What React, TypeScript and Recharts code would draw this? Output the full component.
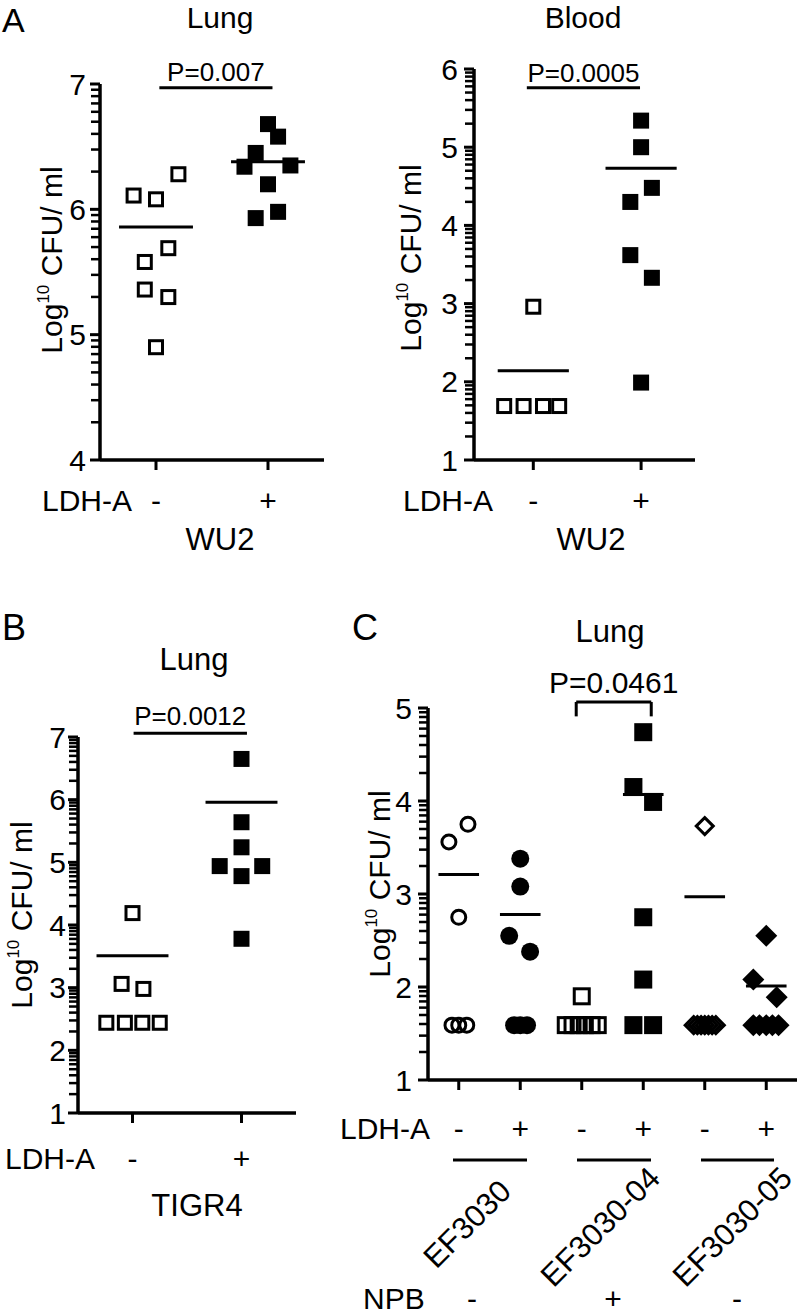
import React from 'react'
import { ScatterChart, Scatter, XAxis, YAxis, ReferenceLine } from 'recharts'

const FONT = '"Liberation Sans", Arial, Helvetica, sans-serif'

// ---- A: Lung (WU2) ----
const aLungNegY = [6.11, 6.08, 6.28, 5.69, 5.58, 5.36, 5.3, 4.9]
const aLungNegDx = [-0.2, 0, 0.2, 0.11, -0.1, -0.1, 0.11, 0]
const aLungPosY = [6.68, 6.58, 6.45, 6.34, 6.35, 6.2, 5.98, 5.93]
const aLungPosDx = [0, 0.09, -0.11, -0.21, 0.2, 0, 0.09, -0.11]
const aLungMeans = [5.86, 6.38]

// ---- A: Blood (WU2) ----
const aBloodNegY = [2.96, 1.69, 1.69, 1.69, 1.69]
const aBloodNegDx = [0, -0.27, -0.09, 0.09, 0.24]
const aBloodPosY = [5.34, 5.0, 4.48, 4.3, 3.62, 3.33, 1.99]
const aBloodPosDx = [0, 0, 0.1, -0.1, -0.1, 0.1, 0]
const aBloodMeans = [2.14, 4.73]

// ---- B: Lung (TIGR4) ----
const bNegY = [4.19, 3.06, 2.98, 2.44, 2.44, 2.44, 2.44]
const bNegDx = [0, -0.1, 0.1, -0.24, -0.07, 0.09, 0.25]
const bPosY = [6.65, 5.64, 5.24, 4.94, 4.94, 4.78, 3.78]
const bPosDx = [0, 0, 0, -0.2, 0.19, 0, 0]
const bMeans = [3.51, 5.96]

// ---- C: Lung (EF3030 strains) ----
const c1Y = [3.75, 3.56, 2.75, 1.59, 1.59, 1.59]
const c1Dx = [0.15, -0.16, 0, -0.11, 0, 0.13]
const c2Y = [3.38, 3.08, 2.55, 2.38, 1.59, 1.59, 1.59]
const c2Dx = [0, 0, -0.18, 0.16, -0.1, 0, 0.11]
const c3Y = [1.9, 1.59, 1.59, 1.59, 1.59, 1.59, 1.59]
const c3Dx = [0, -0.26, -0.15, -0.05, 0.05, 0.16, 0.26]
const c4Y = [4.74, 4.15, 3.99, 2.75, 2.08, 1.59, 1.59]
const c4Dx = [0, -0.16, 0.16, 0, 0, -0.16, 0.16]
const c5Y = [3.73, 1.59, 1.59, 1.59, 1.59, 1.59, 1.59, 1.59]
const c5Dx = [0, -0.18, -0.12, -0.06, 0, 0.06, 0.12, 0.18]
const c6Y = [2.55, 2.08, 1.89, 1.59, 1.59, 1.59, 1.59, 1.59]
const c6Dx = [0, -0.21, 0.17, -0.21, -0.11, 0, 0.1, 0.2]
const cMeans = [3.21, 2.78, null, 4.07, 2.97, 2.01]

const ldhLabels2 = ['-', '+']
const ldhLabels6 = ['-', '+', '-', '+', '-', '+']
const strainsC = ['EF3030', 'EF3030-04', 'EF3030-05']
const npbLabels = ['-', '+', '-']

type Kind = 'openSquare' | 'square' | 'openCircle' | 'circle' | 'openDiamond' | 'diamond'

interface Group {
  pos: number
  ys: number[]
  dx: number[]
  kind: Kind
  size: number
  mean: number | null
}

interface PLine {
  x1: number
  x2: number
  y: number
  text: string
  fontSize: number
  offset: number
  armTo?: number
}

interface PanelCfg {
  left: number
  top: number
  width: number
  height: number
  yAxisWidth: number
  marginTop: number
  marginRight: number
  xAxisHeight: number
  xDomain: [number, number]
  yDomain: [number, number]
  xLabels: string[]
  xLabelGap: number
  yLabelGap: number
  groups: Group[]
  p: PLine
}

const SW = 3

function marker(kind: Kind, size: number) {
  const h = size / 2
  return (props: any) => {
    const { cx, cy } = props
    if (cx == null || cy == null) return <g />
    switch (kind) {
      case 'openSquare':
        return <rect x={cx - h + SW / 2} y={cy - h + SW / 2} width={size - SW} height={size - SW} fill="none" stroke="#000" strokeWidth={SW} />
      case 'square':
        return <rect x={cx - h} y={cy - h} width={size} height={size} fill="#000" />
      case 'openCircle':
        return <circle cx={cx} cy={cy} r={h - SW / 2} fill="none" stroke="#000" strokeWidth={SW} />
      case 'circle':
        return <circle cx={cx} cy={cy} r={h} fill="#000" />
      case 'openDiamond': {
        const r = h - SW / 2
        return <polygon points={`${cx},${cy - r} ${cx + r},${cy} ${cx},${cy + r} ${cx - r},${cy}`} fill="none" stroke="#000" strokeWidth={SW} />
      }
      default:
        return <polygon points={`${cx},${cy - h} ${cx + h},${cy} ${cx},${cy + h} ${cx - h},${cy}`} fill="#000" />
    }
  }
}

// short minor tick drawn to the left of the y axis
const minorTickShape = (props: any) => {
  const { cx, cy } = props
  if (cx == null || cy == null) return <g />
  return <rect x={cx - 9} y={cy - 1.25} width={9} height={2.5} fill="#000" />
}

function majorTicks(lo: number, hi: number) {
  const out: number[] = []
  for (let n = lo; n <= hi; n++) out.push(n)
  return out
}

// log10 minor ticks inside each decade
function minorTicks(lo: number, hi: number) {
  const out: number[] = []
  for (let n = lo; n < hi; n++) {
    for (let k = 2; k <= 9; k++) out.push(n + Math.log10(k))
  }
  return out
}

function Panel({ cfg }: { cfg: PanelCfg }) {
  const xTicks = cfg.groups.map((g) => g.pos)
  const half = 0.33
  const p = cfg.p
  const x0 = cfg.xDomain[0]
  return (
    <div style={{ position: 'absolute', left: cfg.left, top: cfg.top }}>
      <ScatterChart
        width={cfg.width}
        height={cfg.height}
        margin={{ top: cfg.marginTop, right: cfg.marginRight, bottom: 0, left: 0 }}
      >
        <XAxis
          type="number"
          dataKey="x"
          domain={cfg.xDomain}
          ticks={xTicks}
          interval={0}
          height={cfg.xAxisHeight}
          axisLine={{ stroke: '#000', strokeWidth: 3.5 }}
          tickLine={{ stroke: '#000', strokeWidth: SW }}
          tickSize={10}
          tickMargin={0}
          tick={(props: any) => {
            const i = xTicks.indexOf(props.payload.value)
            return (
              <text x={props.x} y={props.y + cfg.xLabelGap} textAnchor="middle" dominantBaseline="central" fontSize={30} fill="#000">
                {cfg.xLabels[i]}
              </text>
            )
          }}
        />
        <YAxis
          type="number"
          dataKey="y"
          domain={cfg.yDomain}
          ticks={majorTicks(cfg.yDomain[0], cfg.yDomain[1])}
          interval={0}
          width={cfg.yAxisWidth}
          axisLine={{ stroke: '#000', strokeWidth: 3.5 }}
          tickLine={{ stroke: '#000', strokeWidth: 3 }}
          tickSize={10}
          tickMargin={cfg.yLabelGap - 10}
          tick={{ fontSize: 30, fill: '#000' }}
        />
        <Scatter
          data={minorTicks(cfg.yDomain[0], cfg.yDomain[1]).map((v) => ({ x: x0, y: v }))}
          shape={minorTickShape}
          isAnimationActive={false}
        />
        {cfg.groups.map((g, gi) => (
          <Scatter
            key={gi}
            data={g.ys.map((y, i) => ({ x: g.pos + g.dx[i], y }))}
            shape={marker(g.kind, g.size)}
            isAnimationActive={false}
          />
        ))}
        {cfg.groups.map((g, gi) =>
          g.mean == null ? null : (
            <ReferenceLine
              key={'m' + gi}
              segment={[{ x: g.pos - half, y: g.mean }, { x: g.pos + half, y: g.mean }]}
              stroke="#000"
              strokeWidth={SW}
              ifOverflow="visible"
            />
          )
        )}
        <ReferenceLine
          segment={[{ x: p.x1, y: p.y }, { x: p.x2, y: p.y }]}
          stroke="#000"
          strokeWidth={SW}
          ifOverflow="visible"
          label={{ value: p.text, position: 'top', offset: p.offset, fontSize: p.fontSize, fill: '#000' }}
        />
        {p.armTo != null && (
          <ReferenceLine segment={[{ x: p.x1, y: p.y }, { x: p.x1, y: p.armTo }]} stroke="#000" strokeWidth={SW} ifOverflow="visible" />
        )}
        {p.armTo != null && (
          <ReferenceLine segment={[{ x: p.x2, y: p.y }, { x: p.x2, y: p.armTo }]} stroke="#000" strokeWidth={SW} ifOverflow="visible" />
        )}
      </ScatterChart>
    </div>
  )
}

const panelALung: PanelCfg = {
  left: 0, top: 40, width: 340, height: 510,
  yAxisWidth: 100, marginTop: 44, marginRight: 16, xAxisHeight: 90,
  xDomain: [0.5, 2.5], yDomain: [4, 7],
  xLabels: ldhLabels2, xLabelGap: 30, yLabelGap: 14,
  groups: [
    { pos: 1, ys: aLungNegY, dx: aLungNegDx, kind: 'openSquare', size: 16, mean: aLungMeans[0] },
    { pos: 2, ys: aLungPosY, dx: aLungPosDx, kind: 'square', size: 16, mean: aLungMeans[1] },
  ],
  p: { x1: 1.03, x2: 2.04, y: 6.97, text: 'P=0.007', fontSize: 26, offset: 7 },
}

const panelABlood: PanelCfg = {
  left: 400, top: 40, width: 310, height: 510,
  yAxisWidth: 74, marginTop: 29, marginRight: 15, xAxisHeight: 90,
  xDomain: [0.45, 2.5], yDomain: [1, 6],
  xLabels: ldhLabels2, xLabelGap: 30, yLabelGap: 16,
  groups: [
    { pos: 1, ys: aBloodNegY, dx: aBloodNegDx, kind: 'openSquare', size: 16, mean: aBloodMeans[0] },
    { pos: 2, ys: aBloodPosY, dx: aBloodPosDx, kind: 'square', size: 16, mean: aBloodMeans[1] },
  ],
  p: { x1: 0.94, x2: 1.99, y: 5.76, text: 'P=0.0005', fontSize: 26, offset: 6 },
}

const panelB: PanelCfg = {
  left: 0, top: 690, width: 320, height: 510,
  yAxisWidth: 78, marginTop: 47, marginRight: 24, xAxisHeight: 87,
  xDomain: [0.5, 2.5], yDomain: [1, 7],
  xLabels: ldhLabels2, xLabelGap: 35, yLabelGap: 12,
  groups: [
    { pos: 1, ys: bNegY, dx: bNegDx, kind: 'openSquare', size: 16, mean: bMeans[0] },
    { pos: 2, ys: bPosY, dx: bPosDx, kind: 'square', size: 16, mean: bMeans[1] },
  ],
  p: { x1: 1.01, x2: 2.05, y: 7.06, text: 'P=0.0012', fontSize: 26, offset: 8 },
}

const panelC: PanelCfg = {
  left: 340, top: 650, width: 460, height: 520,
  yAxisWidth: 88, marginTop: 58, marginRight: 3, xAxisHeight: 90,
  xDomain: [0.5, 6.5], yDomain: [1, 5],
  xLabels: ldhLabels6, xLabelGap: 38, yLabelGap: 16,
  groups: [
    { pos: 1, ys: c1Y, dx: c1Dx, kind: 'openCircle', size: 17, mean: cMeans[0] },
    { pos: 2, ys: c2Y, dx: c2Dx, kind: 'circle', size: 18, mean: cMeans[1] },
    { pos: 3, ys: c3Y, dx: c3Dx, kind: 'openSquare', size: 18, mean: cMeans[2] },
    { pos: 4, ys: c4Y, dx: c4Dx, kind: 'square', size: 18, mean: cMeans[3] },
    { pos: 5, ys: c5Y, dx: c5Dx, kind: 'openDiamond', size: 20, mean: cMeans[4] },
    { pos: 6, ys: c6Y, dx: c6Dx, kind: 'diamond', size: 22, mean: cMeans[5] },
  ],
  p: { x1: 2.91, x2: 4.13, y: 5.065, text: 'P=0.0461', fontSize: 30, offset: 9, armTo: 4.91 },
}

const panels = [panelALung, panelABlood, panelB, panelC]

function YLabel({ x, y }: { x: number; y: number }) {
  return (
    <text x={x} y={y} transform={`rotate(-90 ${x} ${y})`} textAnchor="middle" fontSize={30} fill="#000">
      Log<tspan fontSize={17} dy={-13}>10</tspan>
      <tspan dy={13}> CFU/ ml</tspan>
    </text>
  )
}

export default function App() {
  return (
    <div style={{ position: 'absolute', left: 0, top: 0, width: 800, height: 1314, fontFamily: FONT, background: '#fff' }}>
      {panels.map((c, i) => (
        <Panel key={i} cfg={c} />
      ))}
      <svg width={800} height={1314} style={{ position: 'absolute', left: 0, top: 0, pointerEvents: 'none' }} fontFamily={FONT}>
        <text x={2} y={32} fontSize={34}>A</text>
        <text x={2} y={640} fontSize={36}>B</text>
        <text x={352} y={640} fontSize={36}>C</text>

        <text x={220} y={28} textAnchor="middle" fontSize={30}>Lung</text>
        <text x={583} y={28} textAnchor="middle" fontSize={30}>Blood</text>
        <text x={194} y={670} textAnchor="middle" fontSize={31}>Lung</text>
        <text x={610} y={642} textAnchor="middle" fontSize={31}>Lung</text>

        <YLabel x={62} y={260} />
        <YLabel x={421} y={258} />
        <YLabel x={32} y={915} />
        <YLabel x={390} y={884} />

        <text x={42} y={500} dominantBaseline="central" fontSize={30}>LDH-A</text>
        <text x={493} y={500} textAnchor="end" dominantBaseline="central" fontSize={30}>LDH-A</text>
        <text x={220} y={539} textAnchor="middle" dominantBaseline="central" fontSize={31}>WU2</text>
        <text x={591} y={539} textAnchor="middle" dominantBaseline="central" fontSize={31}>WU2</text>

        <text x={5} y={1158} dominantBaseline="central" fontSize={30}>LDH-A</text>
        <text x={197} y={1205} textAnchor="middle" dominantBaseline="central" fontSize={31}>TIGR4</text>

        <text x={430} y={1128} textAnchor="end" dominantBaseline="central" fontSize={30}>LDH-A</text>
        <line x1={453} x2={527} y1={1160} y2={1160} stroke="#000" strokeWidth={SW} />
        <line x1={577} x2={651} y1={1160} y2={1160} stroke="#000" strokeWidth={SW} />
        <line x1={701} x2={774} y1={1160} y2={1160} stroke="#000" strokeWidth={SW} />
        {strainsC.map((s, i) => {
          const ends = [[513, 1193], [662, 1180], [794, 1180]]
          const [ex, ey] = ends[i]
          return (
            <text key={s} x={ex} y={ey} transform={`rotate(-45 ${ex} ${ey})`} textAnchor="end" fontSize={31}>
              {s}
            </text>
          )
        })}
        <text x={363} y={1298} dominantBaseline="central" fontSize={30}>NPB</text>
        {npbLabels.map((s, i) => (
          <text key={i} x={[472, 613, 737][i]} y={1298} textAnchor="middle" dominantBaseline="central" fontSize={30}>
            {s}
          </text>
        ))}
      </svg>
    </div>
  )
}
